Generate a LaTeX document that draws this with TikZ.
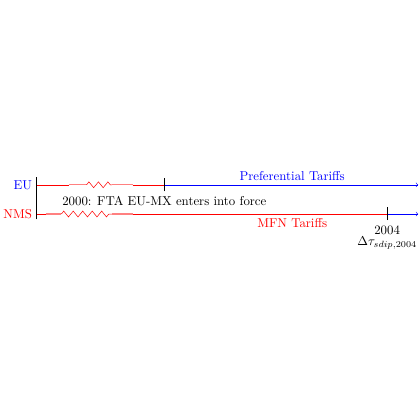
\documentclass[tikz,border=0pt]{standalone}
\usetikzlibrary{decorations.pathmorphing}

\tikzset{
  zig/.style={red,decorate,decoration={zigzag,segment length=0.26cm,amplitude=0.08cm}},
  spring/.style={red!50,line width=1pt},
}

\begin{document}
\begin{tikzpicture}
\useasboundingbox (-1.0,-5.64) rectangle (10.5,5.86);
\coordinate (eu) at (0,0.8);
\coordinate (nms) at (0,0);
\coordinate (fta) at (3.5,0.8);
\coordinate (y04) at (9.6,0);
\coordinate (euend) at (10.45,0.8);
\coordinate (nmsend) at (10.45,0);
\draw (0,-0.15) -- (0,1);
\node[blue,left] (eulab) at (eu) {EU};
\node[red,left] (nmslab) at (nms) {NMS};
% EU line
\draw[red] (eu) -- (0.9,0.8);
\draw[spring] (0.9,0.8) -- (1.37,0.8);
\draw[zig] (1.37,0.8) -- (2.06,0.8);
\draw[spring] (2.06,0.8) -- (2.63,0.8);
\draw[red] (2.63,0.8) -- (fta);
\draw[blue,->] (fta) -- (euend);
\draw (3.5,0.62) -- (3.5,0.98);
\node (ftalab) at (3.5,0.36) {2000: FTA EU-MX enters into force};
\node[blue,above] (pref) at (7,0.8) {Preferential Tariffs};
% NMS line
\draw[red] (nms) -- (0.25,0);
\draw[spring] (0.25,0) -- (0.68,0);
\draw[zig] (0.68,0) -- (2.06,0);
\draw[spring] (2.06,0) -- (2.63,0);
\draw[red] (2.63,0) -- (y04);
\draw[blue,->] (y04) -- (nmsend);
\draw (9.6,-0.17) -- (9.6,0.19);
\node[red,below] (mfn) at (7,0) {MFN Tariffs};
\node[below,align=center,inner sep=1pt] (y04lab) at (9.6,-0.27) {2004\\[-3pt]$\Delta\tau_{sdip,2004}$};
\end{tikzpicture}
\end{document}
